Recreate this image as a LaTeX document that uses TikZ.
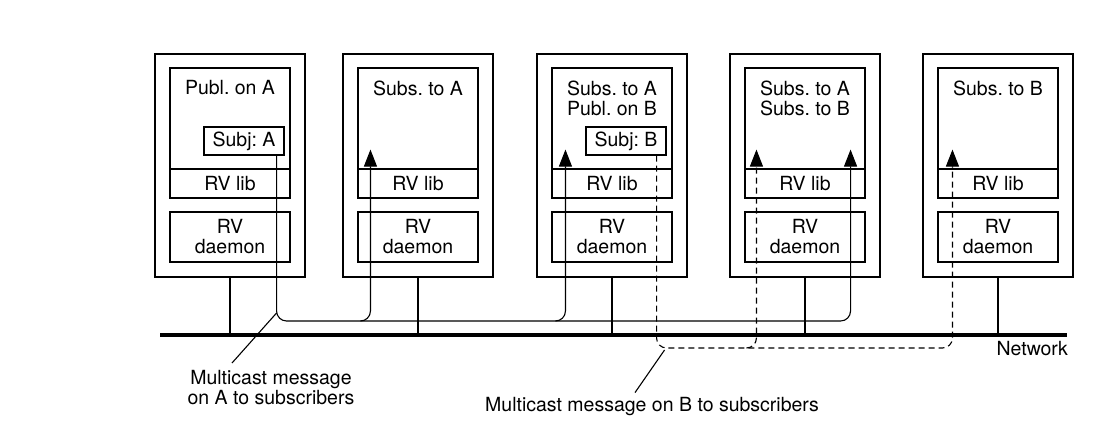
\documentclass[tikz,border=0pt]{standalone}
\usepackage{fontspec}
\setmainfont{TeX Gyre Heros}
\usetikzlibrary{arrows.meta,positioning,calc}
\frenchspacing

\begin{document}
\begin{tikzpicture}[x=1pt,y=-1pt,
  host/.style={draw,line width=2.5pt,minimum width=150pt,minimum height=223pt,inner sep=0pt},
  part/.style={draw,line width=1.1pt,minimum width=120pt,inner sep=0pt,align=center},
  app/.style={part,minimum height=101pt},
  lib/.style={part,minimum height=29pt},
  daemon/.style={part,minimum height=50pt},
  subj/.style={part,minimum width=80pt,minimum height=28pt},
  apptext/.style={anchor=north,inner sep=0pt,align=center},
  note/.style={inner sep=0pt,align=center},
  stem/.style={line width=2.5pt},
  pointer/.style={line width=1.1pt},
  flow/.style={line width=1.1pt,rounded corners=10pt,-{Triangle[length=17pt,width=13pt]}},
  flowB/.style={flow,dash pattern=on 6pt off 4pt},
  font=\fontsize{19.5}{20}\selectfont]
\useasboundingbox (0,0) rectangle (1114,439);
% hosts
\node[host] (h1) at (230,165.5) {};
\node[app] (app1) at (230,118.5) {};
\node[lib] (lib1) at (230,183.5) {RV lib};
\node[daemon] (d1) at (230,237) {RV\\daemon};
\node[apptext] (t1) at ([yshift=-13pt]app1.north) {Publ. on A};
\node[subj,anchor=north east] (subjA) at ([shift={(-6pt,-59pt)}]app1.north east) {Subj: A};

\node[host] (h2) at (418,165.5) {};
\node[app] (app2) at (418,118.5) {};
\node[lib] (lib2) at (418,183.5) {RV lib};
\node[daemon] (d2) at (418,237) {RV\\daemon};
\node[apptext] (t2) at ([yshift=-13pt]app2.north) {Subs. to A};

\node[host] (h3) at (612,165.5) {};
\node[app] (app3) at (612,118.5) {};
\node[lib] (lib3) at (612,183.5) {RV lib};
\node[daemon] (d3) at (612,237) {RV\\daemon};
\node[apptext] (t3) at ([yshift=-13pt]app3.north) {Subs. to A\\Publ. on B};
\node[subj,anchor=north east] (subjB) at ([shift={(-6pt,-59pt)}]app3.north east) {Subj: B};

\node[host] (h4) at (805,165.5) {};
\node[app] (app4) at (805,118.5) {};
\node[lib] (lib4) at (805,183.5) {RV lib};
\node[daemon] (d4) at (805,237) {RV\\daemon};
\node[apptext] (t4) at ([yshift=-13pt]app4.north) {Subs. to A\\Subs. to B};

\node[host] (h5) at (998,165.5) {};
\node[app] (app5) at (998,118.5) {};
\node[lib] (lib5) at (998,183.5) {RV lib};
\node[daemon] (d5) at (998,237) {RV\\daemon};
\node[apptext] (t5) at ([yshift=-13pt]app5.north) {Subs. to B};

% network
\coordinate (netL) at (160,335);
\coordinate (netR) at (1067,335);
\coordinate (busA) at (0,321);
\coordinate (busB) at (0,348);
\draw[line width=3.4pt] (netL) -- (netR);
\foreach \h in {h1,h2,h3,h4,h5}
  \draw[stem] (\h.south) -- (\h.south |- netL);
\node[anchor=base east,inner sep=0pt] (net) at (1068,355) {Network};

% message paths
\coordinate (outA) at ([xshift=-8pt]subjA.south east);
\coordinate (outB) at ([xshift=-10pt]subjB.south east);
\coordinate (inA2) at ([shift={(13pt,20pt)}]app2.south west);
\coordinate (inA3) at ([shift={(14pt,20pt)}]app3.south west);
\coordinate (inA4) at ([shift={(-15pt,20pt)}]app4.south east);
\coordinate (inB4) at ([shift={(12pt,20pt)}]app4.south west);
\coordinate (inB5) at ([shift={(15pt,20pt)}]app5.south west);
\draw[flow] (outA) |- (busA -| inA4) -- (inA4);
\draw[flow] ($(busA -| inA2)+(-10pt,0)$) -| (inA2);
\draw[flow] ($(busA -| inA3)+(-10pt,0)$) -| (inA3);
\draw[flowB] (outB) |- (busB -| inB5) -- (inB5);
\draw[flowB] ($(busB -| inB4)+(-10pt,0)$) -| (inB4);

% notes
\node[note,anchor=north] (noteA) at (271,370) {Multicast message\\on A to subscribers};
\node[note,anchor=base] (noteB) at (652,411) {Multicast message on B to subscribers};
\draw[pointer] ([shift={(-39pt,7pt)}]noteA.north) -- ($(outA |- busA)+(0,8pt)$);
\draw[pointer] ([shift={(-17pt,4pt)}]noteB.north) -- ($(outB |- busB)+(8pt,-2pt)$);
\end{tikzpicture}
\end{document}
